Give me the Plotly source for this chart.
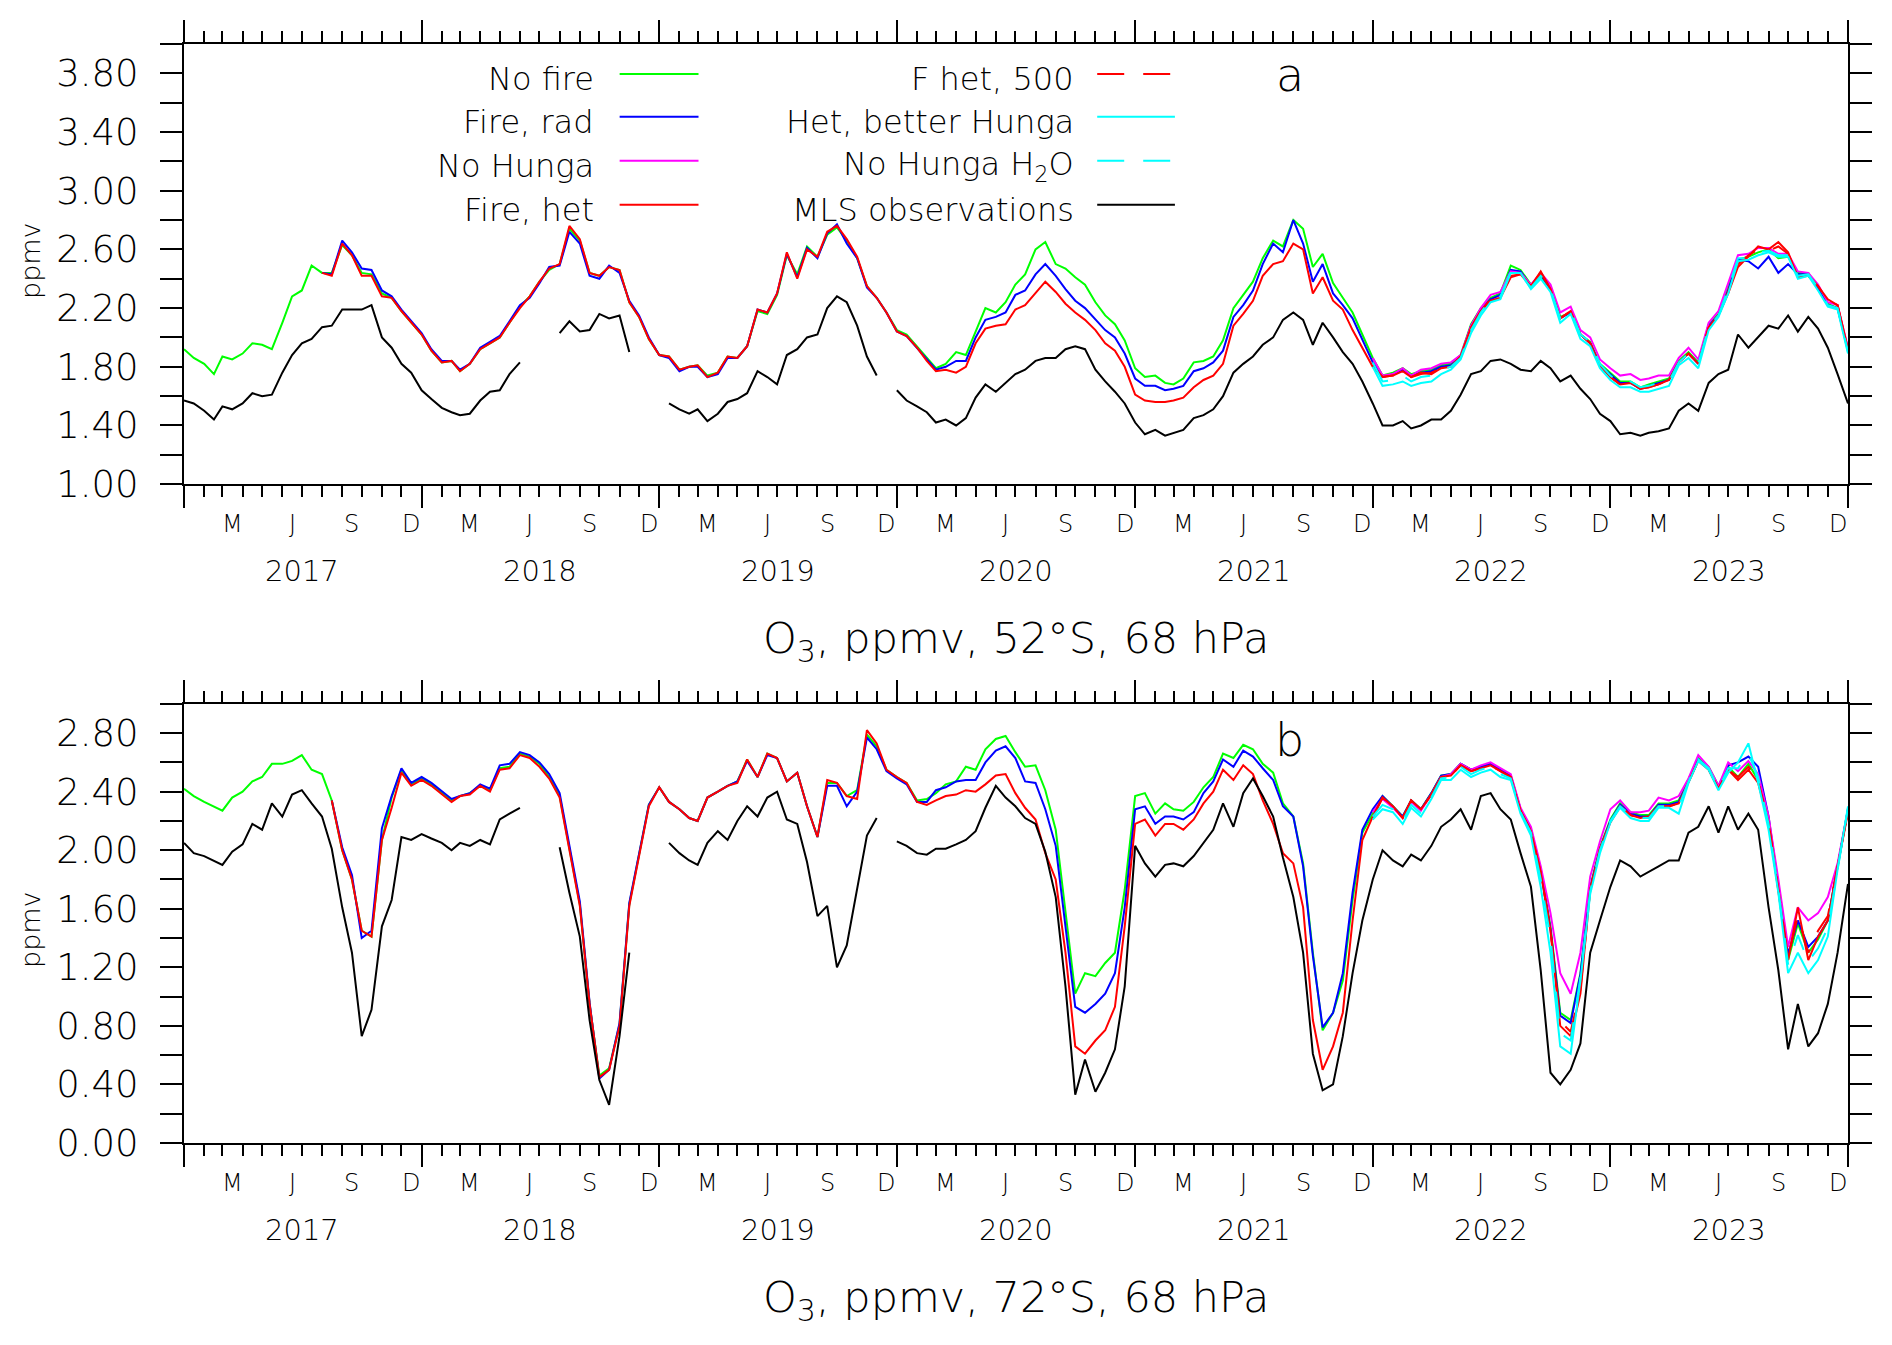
import plotly.graph_objects as go

# sample dates: 1st and 16th of every month, Jan 2017 .. Jan 2024
dates = [f"{y}-{m:02d}-{d:02d}" for y in range(2017, 2024)
         for m in range(1, 13) for d in (1, 16)] + ["2024-01-01"]

# start index (into dates) of the runs that do not cover the whole period
A_FIRE_START = 14
B_FIRE_START = 15
HUNGA_START = 120

# ---------------- panel a: 52S, 68 hPa ----------------
a_no_fire = [
    1.92, 1.86, 1.82, 1.75, 1.87, 1.85, 1.89, 1.96, 1.95, 1.92, 2.10, 2.28, 2.32, 2.49, 2.44, 2.44,
    2.63, 2.56, 2.44, 2.43, 2.30, 2.27, 2.18, 2.10, 2.02, 1.91, 1.83, 1.84, 1.77, 1.82, 1.92, 1.96,
    2.00, 2.10, 2.21, 2.28, 2.38, 2.46, 2.50, 2.74, 2.66, 2.44, 2.42, 2.48, 2.46, 2.24, 2.14, 1.99,
    1.88, 1.87, 1.78, 1.80, 1.81, 1.74, 1.76, 1.87, 1.86, 1.94, 2.18, 2.16, 2.29, 2.56, 2.43, 2.62,
    2.55, 2.70, 2.75, 2.66, 2.54, 2.35, 2.27, 2.17, 2.05, 2.02, 1.94, 1.86, 1.79, 1.82, 1.90, 1.88,
    2.04, 2.20, 2.17, 2.24, 2.36, 2.43, 2.60, 2.65, 2.50, 2.47, 2.41, 2.36, 2.24, 2.15, 2.09, 1.98,
    1.79, 1.73, 1.74, 1.69, 1.68, 1.72, 1.83, 1.84, 1.87, 1.98, 2.20, 2.29, 2.38, 2.54, 2.66, 2.62,
    2.80, 2.74, 2.48, 2.57, 2.37, 2.27, 2.17, 2.02, 1.86, 1.74, 1.76, 1.79, 1.75, 1.77, 1.78, 1.81,
    1.82, 1.88, 2.09, 2.20, 2.27, 2.30, 2.49, 2.46, 2.36, 2.42, 2.33, 2.14, 2.17, 2.02, 1.97, 1.82,
    1.76, 1.70, 1.70, 1.66, 1.68, 1.70, 1.72, 1.84, 1.90, 1.83, 2.09, 2.16, 2.34, 2.53, 2.55, 2.58,
    2.60, 2.54, 2.55, 2.44, 2.44, 2.34, 2.23, 2.20, 1.92,
]
a_fire_rad = [
    2.44, 2.43,
    2.66, 2.58, 2.47, 2.46, 2.32, 2.28, 2.19, 2.11, 2.03, 1.92, 1.84, 1.84, 1.78, 1.82, 1.93, 1.97,
    2.01, 2.11, 2.22, 2.27, 2.37, 2.48, 2.49, 2.72, 2.64, 2.42, 2.40, 2.49, 2.44, 2.25, 2.15, 2.00,
    1.88, 1.86, 1.77, 1.80, 1.80, 1.73, 1.75, 1.86, 1.86, 1.94, 2.19, 2.17, 2.30, 2.57, 2.41, 2.61,
    2.54, 2.71, 2.77, 2.64, 2.54, 2.34, 2.27, 2.17, 2.04, 2.01, 1.93, 1.85, 1.78, 1.80, 1.84, 1.84,
    2.00, 2.12, 2.14, 2.17, 2.29, 2.32, 2.43, 2.50, 2.42, 2.33, 2.25, 2.20, 2.12, 2.05, 2.00, 1.89,
    1.72, 1.67, 1.67, 1.64, 1.65, 1.67, 1.77, 1.79, 1.83, 1.91, 2.14, 2.22, 2.32, 2.50, 2.64, 2.58,
    2.80, 2.64, 2.38, 2.50, 2.30, 2.22, 2.13, 1.98, 1.83, 1.73, 1.75, 1.78, 1.74, 1.76, 1.77, 1.80,
    1.81, 1.87, 2.08, 2.19, 2.26, 2.29, 2.46, 2.45, 2.35, 2.43, 2.33, 2.13, 2.17, 2.02, 1.96, 1.81,
    1.75, 1.69, 1.69, 1.65, 1.67, 1.69, 1.71, 1.83, 1.89, 1.82, 2.08, 2.15, 2.32, 2.53, 2.52, 2.47,
    2.55, 2.44, 2.50, 2.43, 2.43, 2.33, 2.22, 2.20, 1.91,
]
a_fire_het = [
    2.44, 2.42,
    2.64, 2.56, 2.42, 2.42, 2.28, 2.27, 2.18, 2.10, 2.02, 1.91, 1.83, 1.84, 1.77, 1.82, 1.92, 1.96,
    2.00, 2.10, 2.20, 2.28, 2.38, 2.47, 2.50, 2.76, 2.67, 2.44, 2.42, 2.48, 2.46, 2.24, 2.14, 1.99,
    1.88, 1.87, 1.78, 1.80, 1.81, 1.73, 1.76, 1.87, 1.86, 1.94, 2.19, 2.17, 2.30, 2.58, 2.40, 2.60,
    2.55, 2.72, 2.76, 2.67, 2.55, 2.35, 2.27, 2.17, 2.04, 2.01, 1.93, 1.84, 1.77, 1.78, 1.76, 1.80,
    1.96, 2.06, 2.08, 2.09, 2.19, 2.22, 2.30, 2.38, 2.31, 2.23, 2.17, 2.12, 2.05, 1.96, 1.91, 1.80,
    1.61, 1.57, 1.56, 1.56, 1.57, 1.59, 1.66, 1.71, 1.74, 1.82, 2.08, 2.16, 2.25, 2.42, 2.50, 2.52,
    2.64, 2.60, 2.30, 2.41, 2.25, 2.19, 2.05, 1.93, 1.80, 1.73, 1.74, 1.77, 1.73, 1.76, 1.75, 1.79,
    1.80, 1.87, 2.07, 2.18, 2.25, 2.27, 2.41, 2.43, 2.35, 2.45, 2.33, 2.13, 2.18, 2.02, 1.96, 1.81,
    1.73, 1.68, 1.69, 1.65, 1.66, 1.68, 1.71, 1.83, 1.89, 1.82, 2.07, 2.15, 2.30, 2.48, 2.55, 2.62,
    2.60, 2.65, 2.58, 2.41, 2.42, 2.35, 2.26, 2.22, 1.92,
]
a_no_hunga = [
    1.86, 1.74, 1.75, 1.79, 1.74, 1.78, 1.79, 1.82,
    1.83, 1.88, 2.08, 2.20, 2.29, 2.31, 2.45, 2.44, 2.36, 2.44, 2.36, 2.17, 2.21, 2.05, 2.00, 1.85,
    1.79, 1.74, 1.75, 1.71, 1.72, 1.74, 1.74, 1.86, 1.93, 1.85, 2.10, 2.18, 2.37, 2.56, 2.57, 2.61,
    2.61, 2.57, 2.57, 2.45, 2.44, 2.36, 2.24, 2.22, 1.93,
]
a_het_better = [
    1.80, 1.67, 1.68, 1.70, 1.67, 1.69, 1.70, 1.75,
    1.78, 1.85, 2.03, 2.15, 2.24, 2.26, 2.44, 2.44, 2.33, 2.40, 2.31, 2.10, 2.16, 1.99, 1.94, 1.79,
    1.71, 1.66, 1.66, 1.63, 1.63, 1.65, 1.67, 1.81, 1.86, 1.79, 2.05, 2.14, 2.30, 2.52, 2.53, 2.56,
    2.58, 2.55, 2.55, 2.40, 2.42, 2.32, 2.21, 2.19, 1.89,
]
a_no_hunga_h2o = [
    1.83, 1.70, 1.71, 1.74, 1.70, 1.73, 1.74, 1.78,
    1.80, 1.86, 2.05, 2.17, 2.26, 2.28, 2.45, 2.43, 2.34, 2.42, 2.33, 2.13, 2.18, 2.02, 1.97, 1.82,
    1.74, 1.69, 1.70, 1.66, 1.67, 1.69, 1.70, 1.83, 1.89, 1.82, 2.07, 2.15, 2.33, 2.54, 2.54, 2.58,
    2.59, 2.56, 2.56, 2.42, 2.43, 2.34, 2.22, 2.20, 1.90,
]
a_het_500 = [
    1.81, 1.73, 1.74, 1.77, 1.73, 1.75, 1.76, 1.79,
    1.80, 1.87, 2.07, 2.18, 2.26, 2.28, 2.42, 2.43, 2.35, 2.44, 2.33, 2.13, 2.18, 2.02, 1.96, 1.81,
    1.73, 1.68, 1.69, 1.65, 1.66, 1.68, 1.71, 1.83, 1.89, 1.82, 2.07, 2.15, 2.31, 2.50, 2.56, 2.60,
    2.59, 2.62, 2.57, 2.42, 2.42, 2.35, 2.25, 2.22, 1.91,
]
a_mls = [
    1.57, 1.55, 1.50, 1.44, 1.53, 1.51, 1.55, 1.62, 1.60, 1.61, 1.76, 1.88, 1.96, 1.99, 2.07, 2.08,
    2.19, 2.19, 2.19, 2.22, 2.00, 1.93, 1.82, 1.76, 1.64, 1.58, 1.52, 1.49, 1.47, 1.48, 1.57, 1.63,
    1.64, 1.75, 1.83, None, None, None, 2.03, 2.11, 2.04, 2.05, 2.16, 2.13, 2.15, 1.90, None, None,
    None, 1.55, 1.51, 1.48, 1.51, 1.43, 1.48, 1.56, 1.58, 1.62, 1.77, 1.73, 1.68, 1.88, 1.92, 2.00,
    2.02, 2.20, 2.28, 2.24, 2.08, 1.87, 1.74, None, 1.64, 1.57, 1.53, 1.49, 1.42, 1.44, 1.40, 1.45,
    1.59, 1.68, 1.63, 1.69, 1.75, 1.78, 1.84, 1.86, 1.86, 1.92, 1.94, 1.92, 1.78, 1.70, 1.63, 1.55,
    1.42, 1.34, 1.37, 1.33, 1.35, 1.37, 1.45, 1.47, 1.51, 1.60, 1.76, 1.82, 1.87, 1.95, 2.00, 2.12,
    2.17, 2.12, 1.95, 2.10, 2.00, 1.90, 1.82, 1.70, 1.55, 1.40, 1.40, 1.43, 1.38, 1.40, 1.44, 1.44,
    1.50, 1.61, 1.75, 1.77, 1.84, 1.85, 1.82, 1.78, 1.77, 1.84, 1.79, 1.70, 1.74, 1.65, 1.58, 1.48,
    1.43, 1.34, 1.35, 1.33, 1.35, 1.36, 1.38, 1.50, 1.55, 1.50, 1.69, 1.75, 1.78, 2.02, 1.93, 2.00,
    2.08, 2.06, 2.15, 2.04, 2.14, 2.06, 1.93, 1.75, 1.55,
]

# ---------------- panel b: 72S, 68 hPa ----------------
b_no_fire = [
    2.42, 2.37, 2.33, 2.30, 2.27, 2.36, 2.40, 2.47, 2.50, 2.59, 2.59, 2.61, 2.65, 2.55, 2.52, 2.34,
    2.00, 1.80, 1.45, 1.41, 2.07, 2.36, 2.55, 2.45, 2.49, 2.45, 2.39, 2.34, 2.37, 2.39, 2.44, 2.41,
    2.56, 2.57, 2.66, 2.64, 2.59, 2.50, 2.37, 2.00, 1.63, 0.95, 0.46, 0.51, 0.81, 1.63, 1.97, 2.31,
    2.43, 2.33, 2.28, 2.22, 2.20, 2.36, 2.40, 2.44, 2.47, 2.62, 2.50, 2.66, 2.63, 2.47, 2.53, 2.30,
    2.09, 2.46, 2.46, 2.37, 2.41, 2.79, 2.71, 2.55, 2.50, 2.46, 2.34, 2.35, 2.39, 2.45, 2.47, 2.57,
    2.55, 2.69, 2.76, 2.78, 2.67, 2.57, 2.58, 2.41, 2.14, 1.57, 1.02, 1.16, 1.14, 1.23, 1.30, 1.73,
    2.37, 2.39, 2.25, 2.32, 2.28, 2.27, 2.33, 2.43, 2.50, 2.66, 2.63, 2.72, 2.69, 2.59, 2.53, 2.32,
    2.23, 1.91, 1.30, 0.77, 0.89, 1.11, 1.66, 2.12, 2.25, 2.37, 2.30, 2.23, 2.34, 2.28, 2.39, 2.51,
    2.52, 2.59, 2.55, 2.57, 2.59, 2.55, 2.51, 2.28, 2.14, 1.87, 1.48, 0.89, 0.84, 1.16, 1.75, 2.02,
    2.21, 2.32, 2.26, 2.24, 2.24, 2.32, 2.32, 2.34, 2.48, 2.63, 2.57, 2.44, 2.57, 2.50, 2.59, 2.48,
    2.21, 1.75, 1.25, 1.50, 1.30, 1.39, 1.52, 1.89, 2.28,
]
b_fire_rad = [
    2.34,
    2.02, 1.83, 1.40, 1.45, 2.15, 2.37, 2.56, 2.46, 2.50, 2.46, 2.40, 2.35, 2.37, 2.39, 2.45, 2.42,
    2.58, 2.59, 2.67, 2.65, 2.60, 2.52, 2.39, 2.02, 1.65, 0.96, 0.44, 0.50, 0.82, 1.64, 1.98, 2.31,
    2.43, 2.33, 2.28, 2.22, 2.20, 2.36, 2.40, 2.44, 2.47, 2.61, 2.50, 2.65, 2.63, 2.47, 2.53, 2.30,
    2.09, 2.44, 2.44, 2.30, 2.40, 2.77, 2.69, 2.54, 2.49, 2.45, 2.33, 2.33, 2.41, 2.43, 2.47, 2.48,
    2.48, 2.60, 2.68, 2.71, 2.63, 2.47, 2.46, 2.28, 2.03, 1.50, 0.93, 0.89, 0.95, 1.02, 1.16, 1.61,
    2.28, 2.30, 2.18, 2.23, 2.23, 2.21, 2.26, 2.39, 2.47, 2.62, 2.57, 2.68, 2.64, 2.56, 2.48, 2.30,
    2.23, 1.89, 1.28, 0.79, 0.89, 1.16, 1.71, 2.14, 2.28, 2.37, 2.30, 2.23, 2.34, 2.28, 2.39, 2.51,
    2.52, 2.59, 2.55, 2.57, 2.59, 2.55, 2.51, 2.28, 2.14, 1.86, 1.46, 0.87, 0.82, 1.15, 1.74, 2.01,
    2.20, 2.31, 2.25, 2.23, 2.23, 2.31, 2.31, 2.33, 2.47, 2.62, 2.56, 2.43, 2.58, 2.60, 2.64, 2.57,
    2.23, 1.75, 1.29, 1.52, 1.34, 1.41, 1.52, 1.89, 2.28,
]
b_fire_het = [
    2.34,
    2.00, 1.80, 1.45, 1.41, 2.07, 2.29, 2.53, 2.44, 2.48, 2.44, 2.38, 2.33, 2.37, 2.38, 2.44, 2.40,
    2.55, 2.56, 2.65, 2.63, 2.57, 2.49, 2.36, 1.99, 1.62, 0.95, 0.45, 0.50, 0.80, 1.62, 1.96, 2.30,
    2.43, 2.33, 2.28, 2.22, 2.20, 2.36, 2.40, 2.44, 2.46, 2.62, 2.50, 2.66, 2.63, 2.47, 2.53, 2.30,
    2.09, 2.48, 2.46, 2.37, 2.35, 2.82, 2.73, 2.55, 2.50, 2.46, 2.33, 2.31, 2.34, 2.37, 2.38, 2.41,
    2.40, 2.45, 2.51, 2.52, 2.39, 2.29, 2.21, 1.98, 1.80, 1.30, 0.66, 0.61, 0.70, 0.77, 0.93, 1.48,
    2.18, 2.21, 2.10, 2.18, 2.18, 2.14, 2.21, 2.32, 2.40, 2.55, 2.48, 2.58, 2.52, 2.34, 2.18, 1.98,
    1.91, 1.61, 0.84, 0.50, 0.66, 0.89, 1.52, 2.07, 2.23, 2.36, 2.30, 2.22, 2.34, 2.28, 2.38, 2.50,
    2.51, 2.58, 2.54, 2.56, 2.58, 2.54, 2.50, 2.27, 2.13, 1.85, 1.45, 0.80, 0.73, 1.02, 1.73, 2.01,
    2.19, 2.30, 2.24, 2.22, 2.23, 2.30, 2.30, 2.32, 2.46, 2.61, 2.55, 2.42, 2.55, 2.48, 2.55, 2.46,
    2.19, 1.73, 1.25, 1.61, 1.25, 1.41, 1.52, 1.89, 2.26,
]
b_no_hunga = [
    2.26, 2.35, 2.29, 2.22, 2.33, 2.27, 2.38, 2.50,
    2.52, 2.59, 2.55, 2.58, 2.60, 2.56, 2.52, 2.29, 2.16, 1.89, 1.57, 1.16, 1.02, 1.30, 1.82, 2.06,
    2.28, 2.34, 2.26, 2.26, 2.27, 2.36, 2.34, 2.37, 2.49, 2.65, 2.57, 2.44, 2.60, 2.54, 2.61, 2.52,
    2.23, 1.80, 1.34, 1.61, 1.52, 1.57, 1.68, 1.91, 2.28,
]
b_het_better = [
    2.21, 2.28, 2.26, 2.18, 2.29, 2.23, 2.35, 2.48,
    2.48, 2.55, 2.50, 2.53, 2.55, 2.50, 2.48, 2.25, 2.10, 1.75, 1.30, 0.66, 0.61, 1.11, 1.70, 1.98,
    2.19, 2.29, 2.22, 2.20, 2.20, 2.29, 2.29, 2.25, 2.46, 2.61, 2.55, 2.41, 2.53, 2.60, 2.73, 2.46,
    2.14, 1.71, 1.16, 1.30, 1.16, 1.25, 1.41, 1.87, 2.30,
]
b_no_hunga_h2o = [
    2.23, 2.31, 2.28, 2.20, 2.31, 2.25, 2.36, 2.49,
    2.50, 2.57, 2.52, 2.55, 2.57, 2.52, 2.49, 2.26, 2.12, 1.80, 1.40, 0.75, 0.70, 1.13, 1.72, 2.00,
    2.20, 2.30, 2.24, 2.22, 2.22, 2.30, 2.30, 2.30, 2.47, 2.62, 2.56, 2.42, 2.56, 2.56, 2.66, 2.50,
    2.18, 1.73, 1.22, 1.42, 1.24, 1.33, 1.47, 1.88, 2.29,
]
b_het_500 = [
    2.22, 2.36, 2.30, 2.22, 2.34, 2.28, 2.38, 2.50,
    2.51, 2.58, 2.54, 2.56, 2.58, 2.54, 2.50, 2.27, 2.13, 1.85, 1.46, 0.83, 0.76, 1.05, 1.73, 2.01,
    2.19, 2.30, 2.24, 2.22, 2.23, 2.30, 2.30, 2.32, 2.46, 2.61, 2.55, 2.42, 2.55, 2.50, 2.57, 2.47,
    2.20, 1.74, 1.27, 1.55, 1.30, 1.45, 1.55, 1.89, 2.27,
]
b_mls = [
    2.05, 1.98, 1.96, 1.93, 1.90, 1.99, 2.04, 2.18, 2.14, 2.32, 2.23, 2.38, 2.41, 2.32, 2.23, 2.01,
    1.61, 1.30, 0.73, 0.91, 1.48, 1.66, 2.09, 2.07, 2.11, 2.08, 2.05, 2.00, 2.05, 2.03, 2.07, 2.04,
    2.21, 2.25, 2.29, None, None, None, 2.02, 1.71, 1.41, 0.84, 0.43, 0.26, 0.73, 1.30, None, None,
    None, 2.05, 1.98, 1.93, 1.90, 2.05, 2.13, 2.07, 2.20, 2.30, 2.23, 2.36, 2.40, 2.21, 2.18, 1.92,
    1.55, 1.62, 1.20, 1.35, 1.73, 2.10, 2.22, None, 2.06, 2.03, 1.98, 1.97, 2.01, 2.01, 2.04, 2.07,
    2.13, 2.29, 2.44, 2.36, 2.30, 2.22, 2.18, 1.99, 1.68, 1.07, 0.33, 0.57, 0.35, 0.48, 0.64, 1.07,
    2.03, 1.91, 1.82, 1.90, 1.91, 1.89, 1.96, 2.05, 2.14, 2.32, 2.16, 2.39, 2.49, 2.37, 2.23, 1.95,
    1.68, 1.30, 0.61, 0.36, 0.40, 0.73, 1.16, 1.52, 1.80, 2.00, 1.93, 1.89, 1.97, 1.93, 2.03, 2.16,
    2.21, 2.28, 2.14, 2.37, 2.39, 2.28, 2.21, 1.98, 1.75, 1.18, 0.48, 0.40, 0.50, 0.68, 1.30, 1.52,
    1.75, 1.93, 1.89, 1.82, 1.85, 1.89, 1.93, 1.93, 2.12, 2.16, 2.30, 2.12, 2.30, 2.14, 2.25, 2.14,
    1.61, 1.18, 0.64, 0.95, 0.66, 0.75, 0.95, 1.30, 1.77,
]

# legend entries: (label, colour, dash)
legend_left = [
    ("No fire", "#00ff00", "solid"),
    ("Fire, rad", "#0000ff", "solid"),
    ("No Hunga", "#ff00ff", "solid"),
    ("Fire, het", "#ff0000", "solid"),
]
legend_right = [
    ("F het, 500", "#ff0000", "27px,19px"),
    ("Het, better Hunga", "#00ffff", "solid"),
    ("No Hunga H<sub>2</sub>O", "#00ffff", "27px,19px"),
    ("MLS observations", "#000000", "solid"),
]

month_labels = [(3, "M"), (6, "J"), (9, "S"), (12, "D")]
years = list(range(2017, 2024))

FONT = "DejaVu Sans"
W = 2

fig = go.Figure()


def add_line(vals, start, color, dash, xa, ya):
    fig.add_trace(go.Scatter(
        x=dates[start:start + len(vals)], y=vals,
        mode="lines", line=dict(color=color, width=W, dash=dash),
        xaxis=xa, yaxis=ya, showlegend=False, hoverinfo="skip",
    ))


panels = [
    ("x", "y", a_no_fire, a_fire_rad, a_fire_het, a_no_hunga, a_het_500,
     a_het_better, a_no_hunga_h2o, a_mls, A_FIRE_START),
    ("x2", "y2", b_no_fire, b_fire_rad, b_fire_het, b_no_hunga, b_het_500,
     b_het_better, b_no_hunga_h2o, b_mls, B_FIRE_START),
]
for xa, ya, nf, rad, het, nh, h500, better, nh2o, mls, fs in panels:
    add_line(nf, 0, "#00ff00", "solid", xa, ya)
    add_line(rad, fs, "#0000ff", "solid", xa, ya)
    add_line(nh, HUNGA_START, "#ff00ff", "solid", xa, ya)
    add_line(het, fs, "#ff0000", "solid", xa, ya)
    add_line(h500, HUNGA_START, "#ff0000", "27px,19px", xa, ya)
    add_line(better, HUNGA_START, "#00ffff", "solid", xa, ya)
    add_line(nh2o, HUNGA_START, "#00ffff", "27px,19px", xa, ya)
    add_line(mls, 0, "#000000", "solid", xa, ya)

xaxis_style = dict(
    type="date", range=["2017-01-01", "2024-01-01"], domain=[0, 1],
    showline=True, linecolor="black", linewidth=2, mirror="ticks",
    ticks="outside", ticklen=22, tickwidth=2, tickcolor="black",
    tick0="2017-01-01", dtick="M12", showticklabels=False,
    showgrid=False, zeroline=False,
    minor=dict(tick0="2017-01-01", dtick="M1", ticks="outside", ticklen=11,
               tickwidth=2, tickcolor="black", showgrid=False),
)


def yaxis_style(lo, hi, domain):
    return dict(
        range=[lo, hi], domain=domain, tickmode="linear", tick0=lo, dtick=0.4,
        tickformat=".2f", showline=True, linecolor="black", linewidth=2,
        mirror="ticks", ticks="outside", ticklen=22, tickwidth=2, tickcolor="black",
        tickfont=dict(family=FONT, size=37, color="black", weight=200),
        ticklabelstandoff=14,
        showgrid=False, zeroline=False,
        minor=dict(tick0=lo, dtick=0.2, ticks="outside", ticklen=22,
                   tickwidth=2, tickcolor="black", showgrid=False),
    )


# page body keeps an 8px margin, so the figure is 16px smaller than the window
fig.update_layout(
    width=1876, height=1329,
    margin=dict(l=176, r=31, t=34, b=194),
    paper_bgcolor="white", plot_bgcolor="white", showlegend=False,
    font=dict(family=FONT, color="black", weight=200),
    xaxis=dict(xaxis_style, anchor="y"),
    yaxis=yaxis_style(1.0, 4.0, [0.5995, 1.0]) | dict(anchor="x"),
    xaxis2=dict(xaxis_style, anchor="y2"),
    yaxis2=yaxis_style(0.0, 3.0, [0.0, 0.3996]) | dict(anchor="x2"),
)

annotations = []
shapes = []
titles = [("x", "y", "O<sub>3</sub>, ppmv, 52°S, 68 hPa", "a", 0.929, 0.508),
          ("x2", "y2", "O<sub>3</sub>, ppmv, 72°S, 68 hPa", "b", 0.918, 0.486)]
for xa, ya, title, letter, ly, py in titles:
    xd, yd = xa + " domain", ya + " domain"
    for yr in years:
        for m, lab in month_labels:
            annotations.append(dict(
                x=f"{yr}-{m:02d}-16", y=0, xref=xa, yref=yd, text=lab,
                showarrow=False, xanchor="center", yanchor="middle", yshift=-40,
                font=dict(size=24)))
        annotations.append(dict(
            x=f"{yr}-07-02", y=0, xref=xa, yref=yd, text=str(yr),
            showarrow=False, xanchor="center", yanchor="middle", yshift=-87,
            font=dict(size=29)))
    annotations.append(dict(
        x=0.5, y=0, xref=xd, yref=yd, text=title, showarrow=False,
        xanchor="center", yanchor="middle", yshift=-157, font=dict(size=43)))
    annotations.append(dict(
        x=0.6645, y=ly, xref=xd, yref=yd, text=letter, showarrow=False,
        xanchor="center", yanchor="middle", font=dict(size=46)))
    annotations.append(dict(
        x=-0.0923, y=py, xref=xd, yref=yd, text="ppmv", textangle=-90,
        showarrow=False, xanchor="center", yanchor="middle", font=dict(size=27)))

# legend (panel a): right-aligned labels followed by a line sample
rows = [0.932, 0.8345, 0.7347, 0.6349]
for entries, x_text, x0, x1 in [(legend_left, 0.2475, 0.2618, 0.3092),
                                (legend_right, 0.5363, 0.5488, 0.5955)]:
    for (label, color, dash), ry in zip(entries, rows):
        annotations.append(dict(
            x=x_text, y=ry, xref="x domain", yref="y domain", text=label,
            showarrow=False, xanchor="right", yanchor="middle", yshift=-5,
            font=dict(size=32)))
        shapes.append(dict(
            type="line", xref="x domain", yref="y domain",
            x0=x0, x1=x1, y0=ry, y1=ry,
            line=dict(color=color, width=2, dash=dash)))

fig.update_layout(annotations=annotations, shapes=shapes)

fig.write_html("out.html")
